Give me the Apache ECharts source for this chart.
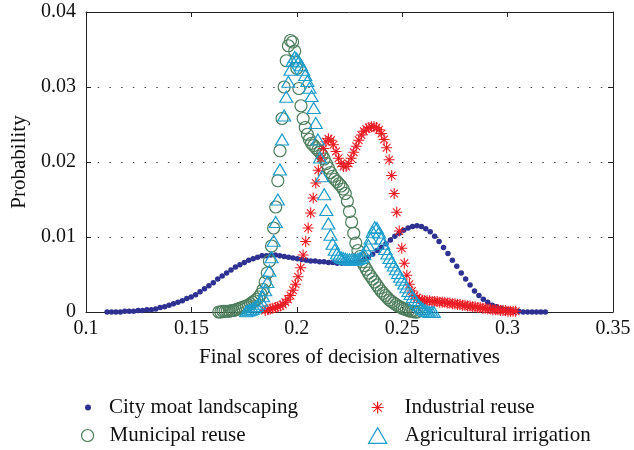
<!DOCTYPE html>
<html><head><meta charset="utf-8">
<script src="https://cdn.jsdelivr.net/npm/echarts/dist/echarts.min.js"></script>
<style>html,body{margin:0;padding:0;background:#fff}#c{width:634px;height:450px}</style>
</head><body><div id="c"></div><script>
var xTicks = {min: 0.1, max: 0.35, interval: 0.05};
var yTicks = {min: 0, max: 0.04, interval: 0.01};
var seriesNames = ['City moat landscaping', 'Municipal reuse', 'Industrial reuse', 'Agricultural irrigation'];

var cityMoat = [
[0.1100,0.0000],[0.1121,0.0000],[0.1142,0.0000],[0.1163,0.0000],[0.1184,0.0001],[0.1205,0.0001],[0.1226,0.0001],[0.1247,0.0002],[0.1268,0.0002],[0.1289,0.0003],
[0.1310,0.0003],[0.1331,0.0004],[0.1352,0.0006],[0.1373,0.0007],[0.1394,0.0009],[0.1415,0.0011],[0.1436,0.0013],[0.1457,0.0015],[0.1478,0.0018],[0.1499,0.0020],
[0.1520,0.0023],[0.1541,0.0027],[0.1562,0.0031],[0.1583,0.0035],[0.1604,0.0039],[0.1625,0.0044],[0.1646,0.0048],[0.1667,0.0052],[0.1688,0.0056],[0.1709,0.0060],
[0.1730,0.0063],[0.1751,0.0066],[0.1772,0.0069],[0.1793,0.0071],[0.1814,0.0073],[0.1835,0.0075],[0.1856,0.0075],[0.1877,0.0076],[0.1898,0.0076],[0.1919,0.0075],
[0.1940,0.0074],[0.1961,0.0073],[0.1982,0.0072],[0.2003,0.0071],[0.2024,0.0070],[0.2045,0.0069],[0.2066,0.0068],[0.2087,0.0068],[0.2108,0.0067],[0.2129,0.0067],
[0.2150,0.0066],[0.2171,0.0066],[0.2192,0.0065],[0.2213,0.0065],[0.2234,0.0065],[0.2255,0.0066],[0.2276,0.0066],[0.2297,0.0068],[0.2318,0.0070],[0.2339,0.0073],
[0.2360,0.0077],[0.2381,0.0082],[0.2402,0.0086],[0.2423,0.0091],[0.2444,0.0096],[0.2465,0.0101],[0.2486,0.0105],[0.2507,0.0109],[0.2528,0.0112],[0.2549,0.0114],
[0.2570,0.0115],[0.2591,0.0114],[0.2612,0.0111],[0.2633,0.0107],[0.2654,0.0101],[0.2675,0.0094],[0.2696,0.0086],[0.2717,0.0078],[0.2738,0.0069],[0.2759,0.0061],
[0.2780,0.0052],[0.2801,0.0044],[0.2822,0.0036],[0.2843,0.0028],[0.2864,0.0022],[0.2885,0.0017],[0.2906,0.0013],[0.2927,0.0009],[0.2948,0.0007],[0.2969,0.0005],
[0.2990,0.0003],[0.3011,0.0002],[0.3032,0.0001],[0.3053,0.0001],[0.3074,0.0000],[0.3095,0.0000],[0.3116,0.0000],[0.3137,0.0000],[0.3158,0.0000],[0.3179,0.0000]
];

var municipalReuse = [
[0.163,0.0000],[0.164,0.0000],[0.165,0.0001],[0.166,0.0001],[0.167,0.0001],[0.168,0.0001],[0.169,0.0002],[0.170,0.0002],[0.171,0.0003],[0.172,0.0004],
[0.173,0.0005],[0.174,0.0006],[0.175,0.0007],[0.176,0.0008],[0.177,0.0009],[0.178,0.0011],[0.179,0.0013],[0.180,0.0015],[0.181,0.0017],[0.182,0.0020],
[0.183,0.0024],[0.184,0.0030],[0.185,0.0040],[0.186,0.0052],[0.187,0.0068],[0.188,0.0088],[0.189,0.0112],[0.190,0.0140],[0.191,0.0175],[0.192,0.0215],
[0.193,0.0258],[0.194,0.0300],[0.195,0.0335],[0.196,0.0355],[0.197,0.0362],[0.198,0.0360],[0.199,0.0348],[0.200,0.0325],[0.201,0.0298],[0.202,0.0275],
[0.203,0.0258],[0.204,0.0246],[0.205,0.0237],[0.206,0.0230],[0.207,0.0225],[0.208,0.0222],[0.209,0.0219],[0.210,0.0216],[0.211,0.0213],[0.212,0.0209],
[0.213,0.0204],[0.214,0.0198],[0.215,0.0192],[0.216,0.0186],[0.217,0.0181],[0.218,0.0177],[0.219,0.0174],[0.220,0.0171],[0.221,0.0168],[0.222,0.0164],
[0.223,0.0158],[0.224,0.0148],[0.225,0.0134],[0.226,0.0120],[0.227,0.0105],[0.228,0.0092],[0.229,0.0082],[0.230,0.0074],[0.231,0.0067],[0.232,0.0062],
[0.233,0.0057],[0.234,0.0052],[0.235,0.0048],[0.236,0.0044],[0.237,0.0040],[0.238,0.0036],[0.239,0.0032],[0.240,0.0028],[0.241,0.0025],[0.242,0.0022],
[0.243,0.0019],[0.244,0.0016],[0.245,0.0014],[0.246,0.0012],[0.247,0.0010],[0.248,0.0008],[0.249,0.0007],[0.250,0.0005],[0.251,0.0004],[0.252,0.0003],
[0.253,0.0002],[0.254,0.0001],[0.255,0.0001],[0.256,0.0000],[0.257,0.0000]
];

var industrialReuse = [
[0.1850,0.0002],[0.1862,0.0003],[0.1874,0.0004],[0.1886,0.0005],[0.1898,0.0006],[0.1910,0.0007],[0.1922,0.0008],[0.1934,0.0010],[0.1946,0.0013],[0.1958,0.0017],
[0.1970,0.0022],[0.1982,0.0029],[0.1994,0.0037],[0.2006,0.0047],[0.2018,0.0059],[0.2030,0.0076],[0.2042,0.0094],[0.2054,0.0112],[0.2066,0.0132],[0.2078,0.0152],
[0.2090,0.0172],[0.2102,0.0189],[0.2114,0.0205],[0.2126,0.0218],[0.2138,0.0227],[0.2150,0.0231],[0.2162,0.0229],[0.2174,0.0223],[0.2186,0.0214],[0.2198,0.0205],
[0.2210,0.0198],[0.2222,0.0194],[0.2234,0.0194],[0.2246,0.0198],[0.2258,0.0205],[0.2270,0.0213],[0.2282,0.0221],[0.2294,0.0229],[0.2306,0.0236],[0.2318,0.0241],
[0.2330,0.0244],[0.2342,0.0246],[0.2354,0.0247],[0.2366,0.0247],[0.2378,0.0246],[0.2390,0.0243],[0.2402,0.0238],[0.2414,0.0230],[0.2426,0.0219],[0.2438,0.0203],
[0.2450,0.0182],[0.2462,0.0158],[0.2474,0.0133],[0.2486,0.0108],[0.2498,0.0085],[0.2510,0.0065],[0.2522,0.0049],[0.2534,0.0037],[0.2546,0.0028],[0.2558,0.0022],
[0.2570,0.0019],[0.2582,0.0017],[0.2594,0.0016],[0.2606,0.0015],[0.2618,0.0015],[0.2630,0.0015],[0.2642,0.0014],[0.2654,0.0014],[0.2666,0.0014],[0.2678,0.0013],
[0.2690,0.0013],[0.2702,0.0013],[0.2714,0.0012],[0.2726,0.0012],[0.2738,0.0011],[0.2750,0.0011],[0.2762,0.0010],[0.2774,0.0010],[0.2786,0.0009],[0.2798,0.0009],
[0.2810,0.0008],[0.2822,0.0008],[0.2834,0.0007],[0.2846,0.0007],[0.2858,0.0006],[0.2870,0.0006],[0.2882,0.0005],[0.2894,0.0005],[0.2906,0.0004],[0.2918,0.0004],
[0.2930,0.0003],[0.2942,0.0003],[0.2954,0.0003],[0.2966,0.0002],[0.2978,0.0002],[0.2990,0.0002],[0.3002,0.0001],[0.3014,0.0001],[0.3026,0.0001],[0.3038,0.0001]
];

var agriculturalIrrigation = [
[0.176,0.0001],[0.177,0.0002],[0.178,0.0003],[0.179,0.0004],[0.180,0.0006],[0.181,0.0008],[0.182,0.0011],[0.183,0.0015],[0.184,0.0021],[0.185,0.0029],
[0.186,0.0040],[0.187,0.0055],[0.188,0.0073],[0.189,0.0095],[0.190,0.0120],[0.191,0.0150],[0.192,0.0190],[0.193,0.0230],[0.194,0.0262],[0.195,0.0287],
[0.196,0.0307],[0.197,0.0323],[0.198,0.0335],[0.199,0.0340],[0.200,0.0338],[0.201,0.0334],[0.202,0.0329],[0.203,0.0323],[0.204,0.0316],[0.205,0.0308],
[0.206,0.0299],[0.207,0.0288],[0.208,0.0272],[0.209,0.0252],[0.210,0.0230],[0.211,0.0206],[0.212,0.0181],[0.213,0.0157],[0.214,0.0136],[0.215,0.0118],
[0.216,0.0103],[0.217,0.0091],[0.218,0.0083],[0.219,0.0078],[0.220,0.0075],[0.221,0.0073],[0.222,0.0072],[0.223,0.0071],[0.224,0.0070],[0.225,0.0070],
[0.226,0.0070],[0.227,0.0070],[0.228,0.0070],[0.229,0.0071],[0.230,0.0072],[0.231,0.0074],[0.232,0.0077],[0.233,0.0082],[0.234,0.0089],[0.235,0.0098],
[0.236,0.0107],[0.237,0.0113],[0.238,0.0112],[0.239,0.0106],[0.240,0.0098],[0.241,0.0091],[0.242,0.0084],[0.243,0.0078],[0.244,0.0072],[0.245,0.0067],
[0.246,0.0062],[0.247,0.0057],[0.248,0.0052],[0.249,0.0047],[0.250,0.0043],[0.251,0.0038],[0.252,0.0033],[0.253,0.0028],[0.254,0.0024],[0.255,0.0020],
[0.256,0.0016],[0.257,0.0012],[0.258,0.0009],[0.259,0.0006],[0.260,0.0004],[0.261,0.0002],[0.262,0.0001],[0.263,0.0000],[0.264,0.0000],[0.265,0.0000]
];

var FONT = 'Liberation Serif';
var C_NAVY = '#2e3192', C_GREEN = '#4c7d5c', C_RED = '#ed1c24', C_CYAN = '#1c9dcc';
var STAR = 'path://M5 0L5 10M0 5L10 5M1.5 1.5L8.5 8.5M8.5 1.5L1.5 8.5';
var TRI = 'path://M5 0L10 8.66L0 8.66Z';

var chart = echarts.init(document.getElementById('c'), null, {renderer: 'canvas'});
var axisCommon = {
  axisLine: {show: true, onZero: false, lineStyle: {color: '#222', width: 1}},
  axisTick: {show: true, inside: true, length: 5, lineStyle: {color: '#222', width: 1}},
  splitLine: {show: false}
};
function legendItem(name, left, top, icon, w, h, style, pad) {
  return {
    left: left, top: top, orient: 'vertical', padding: 0, itemWidth: w, itemHeight: h,
    selectedMode: false,
    data: [{name: name, icon: icon, itemStyle: style}],
    textStyle: {fontFamily: FONT, fontSize: 21, color: '#111', padding: [0, 0, 0, pad]}
  };
}
chart.setOption({
  animation: false,
  backgroundColor: '#fff',
  grid: {left: 86, right: 21, top: 12, bottom: 138, containLabel: false},
  legend: [
    legendItem(seriesNames[0], 85, 397, 'circle', 6, 6, {color: C_NAVY, borderWidth: 0}, 13),
    legendItem(seriesNames[1], 81, 425, 'circle', 12, 12, {color: 'rgba(0,0,0,0)', borderColor: C_GREEN, borderWidth: 1.2}, 11),
    legendItem(seriesNames[2], 371, 397, STAR, 12, 12, {color: 'rgba(0,0,0,0)', borderColor: C_RED, borderWidth: 1.2}, 16),
    legendItem(seriesNames[3], 368, 425, TRI, 18, 16, {color: 'rgba(0,0,0,0)', borderColor: C_CYAN, borderWidth: 1.3}, 13)
  ],
  xAxis: [
    Object.assign({type: 'value', position: 'bottom', min: xTicks.min, max: xTicks.max, interval: xTicks.interval,
      name: 'Final scores of decision alternatives', nameLocation: 'middle', nameGap: 35,
      nameTextStyle: {fontFamily: FONT, fontSize: 21, color: '#111'},
      axisLabel: {fontFamily: FONT, fontSize: 20, color: '#111', margin: 7}}, axisCommon),
    Object.assign({type: 'value', position: 'top', min: xTicks.min, max: xTicks.max, interval: xTicks.interval,
      axisLabel: {show: false}}, axisCommon)
  ],
  yAxis: [
    Object.assign({type: 'value', position: 'left', min: yTicks.min, max: yTicks.max, interval: yTicks.interval,
      name: 'Probability', nameLocation: 'middle', nameGap: 55,
      nameTextStyle: {fontFamily: FONT, fontSize: 21, color: '#111'},
      axisLabel: {fontFamily: FONT, fontSize: 20, color: '#111', margin: 10}}, axisCommon,
      {splitLine: {show: true, lineStyle: {color: '#444', width: 1.2, type: [1.5, 10.2]}}}),
    Object.assign({type: 'value', position: 'right', min: yTicks.min, max: yTicks.max, interval: yTicks.interval,
      axisLabel: {show: false}}, axisCommon)
  ],
  series: [
    {name: seriesNames[0], type: 'scatter', data: cityMoat, symbol: 'circle', symbolSize: 5.5, silent: true,
      itemStyle: {color: C_NAVY, opacity: 1}},
    {name: seriesNames[1], type: 'scatter', data: municipalReuse, symbol: 'circle', symbolSize: 12, silent: true,
      itemStyle: {color: 'rgba(0,0,0,0)', borderColor: C_GREEN, borderWidth: 1.2, opacity: 1}},
    {name: seriesNames[2], type: 'scatter', data: industrialReuse, symbol: STAR, symbolSize: 11, silent: true,
      itemStyle: {color: 'rgba(0,0,0,0)', borderColor: C_RED, borderWidth: 1.1, opacity: 1}},
    {name: seriesNames[3], type: 'scatter', data: agriculturalIrrigation, symbol: TRI, symbolSize: [13, 11], silent: true,
      itemStyle: {color: 'rgba(0,0,0,0)', borderColor: C_CYAN, borderWidth: 1.2, opacity: 1}}
  ]
});
</script></body></html>
